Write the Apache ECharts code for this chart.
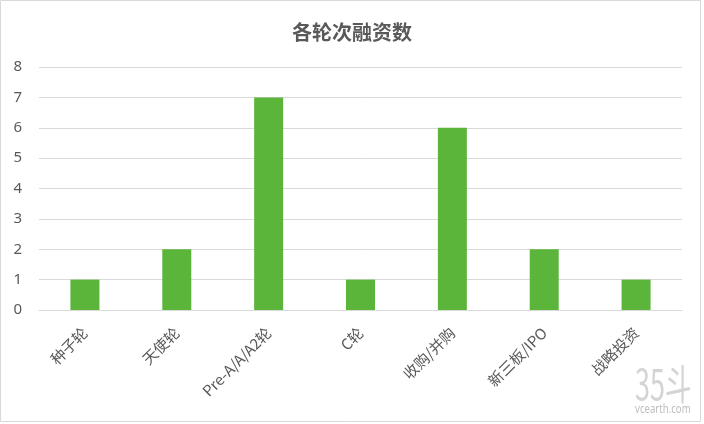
<!DOCTYPE html>
<html><head><meta charset="utf-8">
<script src="https://cdn.jsdelivr.net/npm/echarts@6/dist/echarts.min.js"></script>
<style>html,body{margin:0;padding:0;background:#fff}#c{width:704px;height:424px}</style>
</head><body><div id="c"></div>
<script>
const categories = ['种子轮','天使轮','Pre-A/A/A2轮','C轮','收购/并购','新三板/IPO','战略投资'];
const values = [1,2,7,1,6,2,1];
const yTicks = {min:0, max:8, interval:1};
const chart = echarts.init(document.getElementById('c'));
chart.setOption({
  animation:false,
  backgroundColor:'#fff',
  title:{text:'各轮次融资数',left:'center',top:17,textStyle:{fontSize:20,fontWeight:'bold',color:'#595959',fontFamily:'Noto Sans CJK SC'}},
  grid:{left:39,right:22,top:67,bottom:114},
  xAxis:{type:'category',data:categories,
    axisLine:{show:true,lineStyle:{color:'#d9d9d9'}},axisTick:{show:false},
    axisLabel:{rotate:45,fontSize:15,color:'#595959',margin:20,interval:0,fontFamily:'Noto Sans CJK SC'}},
  yAxis:{type:'value',min:yTicks.min,max:yTicks.max,interval:yTicks.interval,
    axisLine:{show:false},axisTick:{show:false},
    splitLine:{lineStyle:{color:'#d9d9d9'}},
    axisLabel:{fontSize:15,color:'#595959',margin:17,fontFamily:'Noto Sans'}},
  series:[{type:'bar',data:values,barWidth:29,itemStyle:{color:'#5bb53a'}}],
  graphic:[
    {type:'rect',shape:{x:0.5,y:0.5,width:700,height:421},style:{fill:'none',stroke:'#d9d9d9',lineWidth:1},silent:true},
    {type:'text',x:635,y:363,scaleX:0.64,style:{text:'35斗',fontSize:42,fill:'#d4d4d4',fontFamily:'Noto Sans CJK SC',verticalAlign:'top'}},
    {type:'text',x:635,y:404,scaleX:0.8,style:{text:'vcearth.com',fontSize:12,fill:'#bdbdbd',fontFamily:'Noto Sans',verticalAlign:'top'}}
  ]
});
</script></body></html>
